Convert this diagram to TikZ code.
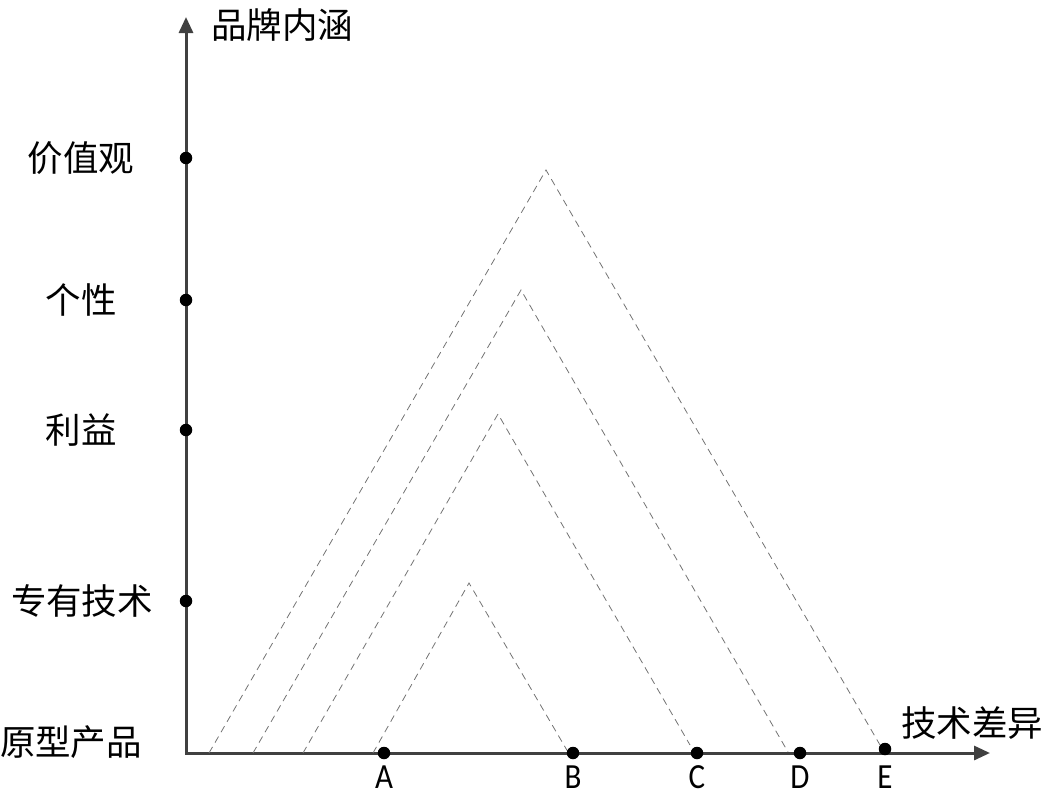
\documentclass[tikz,border=0pt]{standalone}
\usepackage{fontspec}
\setmainfont{Carlito}
\newfontfamily\cjk{Noto Sans CJK SC}
\usetikzlibrary{arrows.meta}

\begin{document}
\begin{tikzpicture}[x=1pt, y=-1pt, every node/.style={font=\cjk\fontsize{35.5}{36}\selectfont}]

		\useasboundingbox (0,0) rectangle (1045,798);
		\tikzset{axis/.style={line width=3pt, black!75, line join=miter, {Triangle[length=16pt,width=14pt]}-{Triangle[length=16pt,width=14pt]}},
			tri/.style={black!55, line width=0.8pt, dash pattern=on 7pt off 5pt},
			dot/.style={circle, fill=black, inner sep=0pt, minimum size=12.5pt},
			letter/.style={font=\fontsize{31}{31}\selectfont}}

		\coordinate (O) at (186,753);
		\coordinate (Ytip) at (186,17);
		\coordinate (Xtip) at (990,753);
		\draw[axis] (Ytip) -- (O) -- (Xtip);
		\node (ylabel) at (282,25) {品牌内涵};
		\node (xlabel) at (972,723) {技术差异};

		% dashed triangles
		\draw[tri] (209,753) coordinate (l1) -- (546,170) coordinate (t1) -- (880,745) coordinate (r1);
		\draw[tri] (253,753) coordinate (l2) -- (521,290) coordinate (t2) -- (788,752) coordinate (r2);
		\draw[tri] (303,753) coordinate (l3) -- (498,414) coordinate (t3) -- (690,745) coordinate (r3);
		\draw[tri] (373,753) coordinate (l4) -- (469,583) coordinate (t4) -- (568,752) coordinate (r4);

		% levels on the vertical axis
		\foreach \y/\x/\txt [count=\i] in {158/81/价值观, 300/81/个性, 430/81/利益, 601/82/专有技术}{
			\node[dot] (lv\i) at (186,\y) {};
			\node (lvtxt\i) at (\x,\y) {\txt};}
		\node (base) at (71,742) {原型产品};

		% points on the horizontal axis
		\foreach \x/\y/\name in {384/753/A, 573/753/B, 697/753/C, 800/753/D, 885/749/E}{
			\node[dot] (p\name) at (\x,\y) {};
			\node[letter] (txt\name) at (\x,777) {\scalebox{1}[1.14]{\name}};}
	\end{tikzpicture}
\end{document}
